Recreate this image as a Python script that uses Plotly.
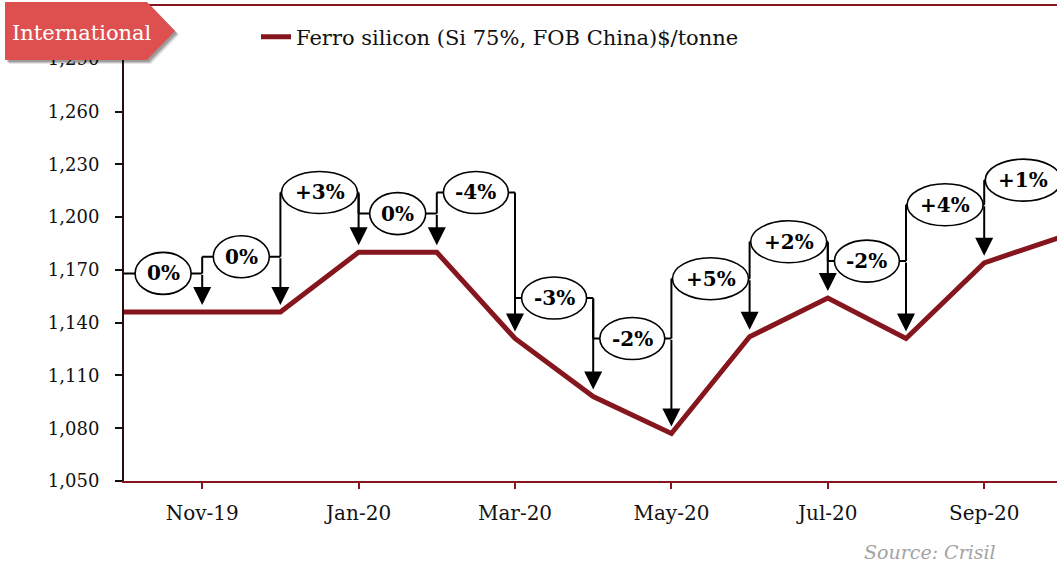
import plotly.graph_objects as go

# ---------------- data ----------------
months = ["Oct-19", "Nov-19", "Dec-19", "Jan-20", "Feb-20", "Mar-20", "Apr-20",
          "May-20", "Jun-20", "Jul-20", "Aug-20", "Sep-20", "Oct-20"]
prices = [1146, 1146, 1146, 1180, 1180, 1131, 1098, 1077, 1132, 1154, 1131, 1174, 1189]
# month-on-month change labels (Nov-19 .. Oct-20)
change_labels = ["0%", "0%", "+3%", "0%", "-4%", "-3%", "-2%", "+5%", "+2%", "-2%", "+4%", "+1%"]
# vertical level (in $/tonne) at which each change bubble sits
bubble_levels = [1168, 1177.5, 1214, 1202, 1214, 1154, 1131, 1165, 1186, 1175, 1207, 1221]
y_ticks = list(range(1050, 1321, 30))
series_name = "Ferro silicon (Si 75%, FOB China)$/tonne"

# ---------------- layout constants ----------------
W, H = 1057, 565
ML, MR, MT, MB = 124, 0, 6, 84
LINE_COLOR = "#86161E"
FONT = "DejaVu Serif"


def pxx(xp):
    return (xp - ML) / (W - ML - MR)


def pxy(yp):
    return (H - MB - yp) / (H - MT - MB)


x_idx = list(range(len(months)))

fig = go.Figure()
fig.add_trace(go.Scatter(
    x=x_idx, y=prices, mode="lines", name=series_name,
    line=dict(color=LINE_COLOR, width=5), showlegend=True,
))

shapes = []
annotations = []

# connectors
for i, (lab, lev) in enumerate(zip(change_labels, bubble_levels), start=1):
    x0, x1 = x_idx[i - 1], x_idx[i]
    shapes.append(dict(type="line", xref="x", yref="y", x0=x0, x1=x1, y0=lev, y1=lev,
                       line=dict(color="black", width=2)))
    if i > 1:
        shapes.append(dict(type="line", xref="x", yref="y", x0=x0, x1=x0,
                           y0=lev, y1=bubble_levels[i - 2],
                           line=dict(color="black", width=2)))
    annotations.append(dict(x=x1, y=prices[i], ax=x1, ay=lev, xref="x", yref="y",
                            axref="x", ayref="y", text="", showarrow=True,
                            arrowhead=2, arrowsize=1.8, arrowwidth=2,
                            arrowcolor="black", standoff=7))

# bubbles
for i, (lab, lev) in enumerate(zip(change_labels, bubble_levels), start=1):
    mid = (x_idx[i - 1] + x_idx[i]) / 2
    if len(lab) == 2:
        w = 56
    elif lab.startswith("+"):
        w = 76
    else:
        w = 65
    shapes.append(dict(type="circle", xref="x", yref="y",
                       xsizemode="pixel", ysizemode="pixel",
                       xanchor=mid, yanchor=lev, x0=-w / 2, x1=w / 2, y0=-21, y1=21,
                       fillcolor="white", line=dict(color="black", width=1.6)))
    annotations.append(dict(x=mid, y=lev, xref="x", yref="y", text=lab, showarrow=False,
                            font=dict(family=FONT, size=20, color="black", weight="bold")))

# "International" tag with shadow
tag = [(5, 2), (147, 2), (175, 31), (147, 60), (5, 60)]


def path_of(pts, dx=0, dy=0):
    s = "M" + " L".join(f"{pxx(a + dx):.5f},{pxy(b + dy):.5f}" for a, b in pts) + " Z"
    return s


for k, op in [(4, 0.10), (3, 0.15), (2, 0.2)]:
    shapes.append(dict(type="path", xref="paper", yref="paper", path=path_of(tag, k, k),
                       fillcolor=f"rgba(0,0,0,{op})", line=dict(width=0), layer="above"))
shapes.append(dict(type="path", xref="paper", yref="paper", path=path_of(tag),
                   fillcolor="#DE5050", line=dict(width=0), layer="above"))
annotations.append(dict(x=pxx(82), y=pxy(33), xref="paper", yref="paper",
                        xanchor="center", yanchor="middle",
                        text="International", showarrow=False,
                        font=dict(family=FONT, size=21, color="white")))

# source
annotations.append(dict(x=pxx(998), y=pxy(552), xref="paper", yref="paper",
                        xanchor="right", yanchor="middle",
                        text="<i>Source: Crisil</i>", showarrow=False,
                        font=dict(family=FONT, size=19, color="#A3A3A3")))

fig.update_layout(
    width=W, height=H,
    margin=dict(l=ML, r=MR, t=MT, b=MB, autoexpand=False),
    paper_bgcolor="white", plot_bgcolor="white",
    shapes=shapes, annotations=annotations,
    showlegend=True,
    legend=dict(x=pxx(256), y=pxy(37), xanchor="left", yanchor="middle",
                bgcolor="rgba(0,0,0,0)", font=dict(family=FONT, size=21, color="#111")),
    xaxis=dict(range=[0, (W - MR - ML) / 78.2], tickvals=x_idx[1::2], ticktext=months[1::2],
               showgrid=False, zeroline=False, showline=True, linecolor=LINE_COLOR,
               linewidth=2, mirror=True, ticks="outside", ticklen=6, tickwidth=2,
               tickcolor=LINE_COLOR, ticklabelstandoff=7,
               tickfont=dict(family=FONT, size=20, color="#111")),
    yaxis=dict(range=[1050, 1320], tickvals=y_ticks, tickformat=",",
               showgrid=False, zeroline=False, showline=True, linecolor="#2a0d0d",
               linewidth=2, ticks="outside", ticklen=7, tickwidth=2, tickcolor="#111",
               ticklabelstandoff=12,
               tickfont=dict(family=FONT, size=18, color="#111")),
)

fig.write_html("out.html", config={"displayModeBar": False},
               post_script="document.body.style.margin='0';document.body.style.padding='0';")
